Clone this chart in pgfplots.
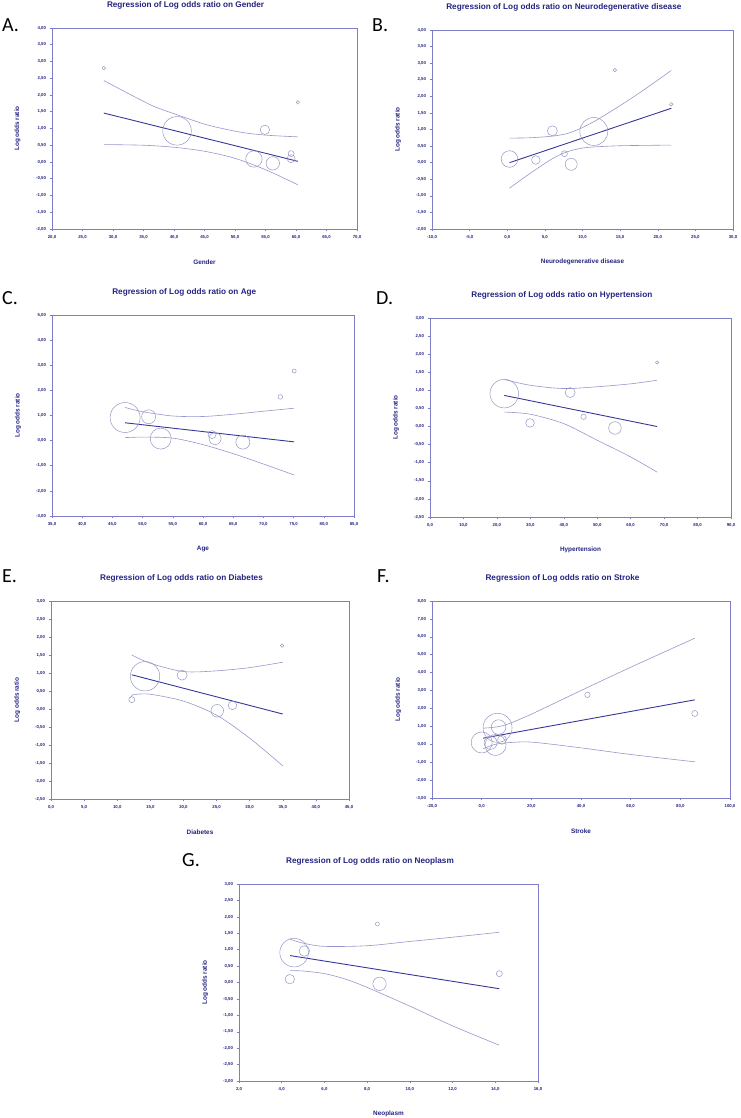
\documentclass[border=0pt]{standalone}
\usepackage{fontspec}
\setmainfont{Liberation Sans}
\newfontfamily\carl{Carlito}
\usepackage{pgfplots}
\pgfplotsset{compat=1.18}
\definecolor{frame}{RGB}{125,125,200}
\definecolor{bubcol}{RGB}{150,150,195}
\definecolor{cicol}{RGB}{150,150,205}
\definecolor{regcol}{RGB}{55,55,155}
\definecolor{labcol}{RGB}{35,35,130}
\newcommand\ticklabfont{\fontsize{4.3}{5}\selectfont\bfseries}
\newcommand\titlefont{\fontsize{8.2}{9}\selectfont\bfseries}
\newcommand\labelfont{\fontsize{6.4}{7}\selectfont\bfseries}
\newcommand\letterfont{\fontsize{20}{22}\selectfont\carl}
\pgfplotsset{
  panel/.style={
    scale only axis, anchor=south west,
    axis line style={draw=frame, line width=0.8pt},
    tick style={draw=frame, line width=0.5pt},
    major tick length=2.5pt, tick align=outside,
    xtick pos=left, ytick pos=left,
    ticklabel style={font=\ticklabfont, text=labcol},
    yticklabel style={/pgf/number format/.cd, fixed, fixed zerofill, precision=2, use comma, assume math mode=true},
    xticklabel style={/pgf/number format/.cd, fixed, fixed zerofill, precision=1, use comma, assume math mode=true},
    every axis title/.style={at={(axis description cs:0.438,1)}, yshift=23pt, anchor=center, font=\titlefont, text=labcol},
    every axis x label/.style={at={(axis description cs:0.5,0)}, yshift=-33pt, anchor=center, font=\labelfont, text=labcol},
    every axis y label/.style={at={(axis description cs:-0.113,0.5)}, rotate=90, anchor=center, font=\labelfont, text=labcol},
    ylabel={Log odds ratio},
    clip=false,
  },
  bub/.style={scatter, only marks, mark=o, line width=0.5pt,
    scatter/use mapped color={draw=bubcol, fill=none},
    visualization depends on={\thisrow{r}\as\rr},
    scatter/@pre marker code/.append style={/tikz/mark size=\rr}},
  reg/.style={draw=regcol, line width=0.9pt, mark=none},
  ci/.style={draw=cicol, line width=0.6pt, mark=none, smooth},
}
\begin{document}
\begin{tikzpicture}
\path[use as bounding box] (0pt,0pt) rectangle (740pt,1118pt);
% ---------------- A
\begin{axis}[panel, at={(52pt,889pt)}, width=305pt, height=201pt,
  xmin=20, xmax=70, xtick distance=5, ymin=-2, ymax=4, ytick distance=0.5,
  title={Regression of Log odds ratio on Gender}, xlabel={Gender}]
\addplot[bub] table {
x y r
28.5 2.80 1.8
40.5 0.93 14.3
54.9 0.96 4.7
53.1 0.09 8.2
56.2 -0.04 6.7
59.2 0.25 3.0
59.2 0.10 4.0
60.3 1.78 1.7
};
\addplot[ci] coordinates {(28.5,2.43) (33.4,1.96) (36.7,1.66) (40.5,1.41) (45.4,1.11) (50.9,0.89) (55.2,0.80) (60.3,0.75)};
\addplot[ci] coordinates {(28.5,0.52) (35,0.50) (40,0.44) (45,0.32) (50,0.11) (55,-0.23) (60.3,-0.68)};
\addplot[reg] coordinates {(28.5,1.46) (60.3,0.02)};
\end{axis}
% ---------------- B
\begin{axis}[panel, at={(432pt,889pt)}, width=301pt, height=199pt,
  xmin=-10, xmax=30, xtick distance=5, ymin=-2, ymax=4, ytick distance=0.5,
  title={Regression of Log odds ratio on Neurodegenerative disease}, xlabel={Neurodegenerative disease}]
\addplot[bub] table {
x y r
0.3 0.11 8.3
3.8 0.08 4.3
6.0 0.96 5.0
7.6 0.27 3.0
8.5 -0.05 6.0
11.5 0.94 14.0
14.3 2.79 1.7
21.8 1.76 1.7
};
\addplot[ci] coordinates {(0.3,0.74) (3,0.75) (6,0.80) (8,0.88) (10,1.06) (12,1.30) (15,1.72) (18,2.17) (21.8,2.78)};
\addplot[ci] coordinates {(0.3,-0.77) (3,-0.33) (6,0.12) (8,0.33) (10,0.44) (12,0.48) (15,0.51) (18,0.52) (21.8,0.53)};
\addplot[reg] coordinates {(0.3,0.0) (21.8,1.64)};
\end{axis}
% ---------------- C
\begin{axis}[panel, at={(52pt,602pt)}, width=302pt, height=201pt,
  xmin=35, xmax=85, xtick distance=5, ymin=-3, ymax=5, ytick distance=1,
  title={Regression of Log odds ratio on Age}, xlabel={Age}]
\addplot[bub] table {
x y r
47.1 0.92 15
51.0 0.95 7
53.0 0.08 10.5
61.5 0.24 4
62.0 0.08 6
66.6 -0.06 7
72.8 1.74 2.3
75.1 2.77 2
};
\addplot[ci] coordinates {(47.1,1.32) (50,1.15) (55,0.98) (60,0.96) (65,1.05) (70,1.17) (75.1,1.29)};
\addplot[ci] coordinates {(47.1,0.12) (50,0.14) (55,0.10) (60,-0.16) (65,-0.52) (70,-0.93) (75.1,-1.37)};
\addplot[reg] coordinates {(47.1,0.71) (75.1,-0.05)};
\end{axis}
% ---------------- D
\begin{axis}[panel, at={(430pt,601pt)}, width=301pt, height=199pt,
  xmin=0, xmax=90, xtick distance=10, ymin=-2.5, ymax=3, ytick distance=0.5,
  title={Regression of Log odds ratio on Hypertension}, xlabel={Hypertension}]
\addplot[bub] table {
x y r
22.2 0.91 14.3
29.9 0.10 4.3
41.9 0.94 5
45.9 0.27 2.7
55.3 -0.04 6.3
67.9 1.77 1.7
};
\addplot[ci] coordinates {(22.2,1.30) (30,1.14) (40,1.05) (50,1.10) (60,1.18) (67.9,1.28)};
\addplot[ci] coordinates {(22.2,0.40) (30,0.34) (40,0.08) (50,-0.38) (60,-0.84) (67.9,-1.26)};
\addplot[reg] coordinates {(22.2,0.86) (67.9,0.0)};
\end{axis}
% ---------------- E
\begin{axis}[panel, at={(51pt,319pt)}, width=298pt, height=198pt,
  xmin=0, xmax=45, xtick distance=5, ymin=-2.5, ymax=3, ytick distance=0.5,
  title={Regression of Log odds ratio on Diabetes}, xlabel={Diabetes}]
\addplot[bub] table {
x y r
12.2 0.26 3
14.2 0.91 14.7
19.8 0.94 5
25.1 -0.05 6.3
27.4 0.10 4.3
34.9 1.76 1.7
};
\addplot[ci] coordinates {(12.2,1.50) (15,1.27) (20,1.04) (25,1.06) (30,1.15) (35,1.30)};
\addplot[ci] coordinates {(12.0,0.31) (12.3,0.39) (13,0.41) (15,0.41) (20,0.22) (25,-0.17) (30,-0.81) (35,-1.58)};
\addplot[reg] coordinates {(12.2,0.95) (35,-0.14)};
\end{axis}
% ---------------- F
\begin{axis}[panel, at={(432pt,320pt)}, width=298pt, height=197pt,
  xmin=-20, xmax=100, xtick distance=20, ymin=-3, ymax=8, ytick distance=1,
  title={Regression of Log odds ratio on Stroke}, xlabel={Stroke}]
\addplot[bub] table {
x y r
0.0 0.10 10.5
3.6 0.08 6.5
6.4 0.92 14.5
6.8 0.96 7.3
5.6 -0.04 10.5
8.2 0.25 4.5
42.6 2.76 2.7
85.8 1.72 3
};
\addplot[ci] coordinates {(0.6,0.90) (5,0.95) (10,1.10) (20,1.68) (40,3.0) (60,4.30) (85.8,5.92)};
\addplot[ci] coordinates {(0.6,-0.25) (5,-0.02) (10,0.08) (20,0.12) (40,-0.20) (60,-0.57) (85.8,-0.98)};
\addplot[reg] coordinates {(0.6,0.34) (85.8,2.48)};
\end{axis}
% ---------------- G
\begin{axis}[panel, at={(239pt,37pt)}, width=299pt, height=197pt,
  xmin=2, xmax=16, xtick distance=2, ymin=-3, ymax=3, ytick distance=0.5,
  title={Regression of Log odds ratio on Neoplasm}, xlabel={Neoplasm}]
\addplot[bub] table {
x y r
4.58 0.91 14.3
5.06 0.96 5.3
4.38 0.10 4.7
8.58 -0.04 6.7
8.48 1.78 2
14.19 0.27 3
};
\addplot[ci] coordinates {(4.39,1.32) (5,1.20) (6,1.10) (8,1.12) (10,1.25) (12,1.38) (14.19,1.53)};
\addplot[ci] coordinates {(4.39,0.36) (5,0.35) (6,0.27) (7,0.10) (8,-0.15) (10,-0.72) (12,-1.32) (14.19,-1.91)};
\addplot[reg] coordinates {(4.39,0.82) (14.19,-0.19)};
\end{axis}
% panel letters
\node[anchor=base west, inner sep=0pt, font=\letterfont] at (2pt,1086pt) {A.};
\node[anchor=base west, inner sep=0pt, font=\letterfont] at (372pt,1086pt) {B.};
\node[anchor=base west, inner sep=0pt, font=\letterfont] at (2pt,813pt) {C.};
\node[anchor=base west, inner sep=0pt, font=\letterfont] at (376pt,813pt) {D.};
\node[anchor=base west, inner sep=0pt, font=\letterfont] at (2pt,535pt) {E.};
\node[anchor=base west, inner sep=0pt, font=\letterfont] at (377pt,535pt) {F.};
\node[anchor=base west, inner sep=0pt, font=\letterfont] at (182pt,251pt) {G.};
\end{tikzpicture}
\end{document}
